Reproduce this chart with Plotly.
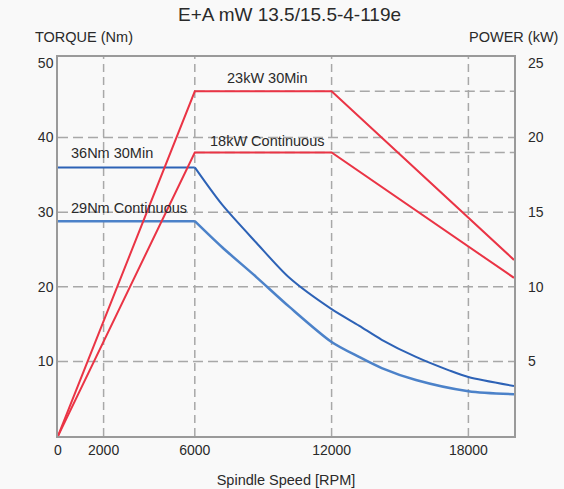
import plotly.graph_objects as go

# ---- data ----
title_text = "E+A mW 13.5/15.5-4-119e"
x_tick_vals = [0, 2000, 6000, 12000, 18000]
x_tick_text = ["0", "2000", "6000", "12000", "18000"]
torque_ticks = [10, 20, 30, 40, 50]
power_ticks = [5, 10, 15, 20, 25]
grid_torque = [10, 20, 30, 40]
grid_rpm = [2000, 6000, 12000, 18000]

rpm_t30 = [0, 6000, 7200, 8700, 10150, 12000, 13200, 14200, 15700, 17150, 18000, 20000]
torque_30min = [36, 36, 31.0, 25.9, 21.2, 17.0, 14.8, 12.9, 10.6, 8.8, 7.9, 6.7]

rpm_tc = [0, 6000, 7200, 8700, 10150, 12000, 13200, 14200, 15700, 18000, 20000]
torque_cont = [28.8, 28.8, 25.3, 21.3, 17.3, 12.6, 10.6, 9.1, 7.5, 6.0, 5.6]

rpm_p = [0, 6000, 12000, 20000]
power_30min = [0, 23.1, 23.1, 11.8]
power_cont = [0, 19.0, 19.0, 10.6]

plateau_levels = [23.1, 19.0]

labels = [
    # text, x (rpm), y, axis, anchor
    ("23kW 30Min", 9200, 24.0, "y2", "center"),
    ("18kW Continuous", 9170, 19.75, "y2", "center"),
    ("36Nm 30Min", 500, 37.9, "y", "left"),
    ("29Nm Continuous", 500, 30.6, "y", "left"),
]

RED = "#ea3445"
BLUE = "#2d62b6"
BLUE2 = "#4c82c9"
GRID = "#a8a8a8"
TXT = "#2a2a2a"
FONT = "Liberation Sans, Arial, sans-serif"

fig = go.Figure()


def add_torque(xs, ys, color, width):
    # flat constant-torque part, then the smooth falling curve
    fig.add_trace(go.Scatter(x=xs[:2], y=ys[:2], mode="lines",
                             line=dict(color=color, width=width), yaxis="y"))
    fig.add_trace(go.Scatter(x=xs[1:], y=ys[1:], mode="lines",
                             line=dict(color=color, width=width, shape="spline", smoothing=0.8),
                             yaxis="y"))


add_torque(rpm_tc, torque_cont, BLUE2, 2.5)
add_torque(rpm_t30, torque_30min, BLUE, 2)
fig.add_trace(go.Scatter(x=rpm_p, y=power_cont, mode="lines",
                         line=dict(color=RED, width=2), yaxis="y2"))
fig.add_trace(go.Scatter(x=rpm_p, y=power_30min, mode="lines",
                         line=dict(color=RED, width=2), yaxis="y2"))

shapes = []
for g in grid_torque:
    shapes.append(dict(type="line", xref="paper", x0=0, x1=1, yref="y", y0=g, y1=g,
                       line=dict(color=GRID, width=1.5, dash="10px,5px"), layer="below"))
for g in grid_rpm:
    shapes.append(dict(type="line", xref="x", x0=g, x1=g, yref="paper", y0=0, y1=1,
                       line=dict(color=GRID, width=1.5, dash="8px,5px"), layer="below"))
for p in plateau_levels:
    shapes.append(dict(type="line", xref="x", x0=6000, x1=20000, yref="y2", y0=p, y1=p,
                       line=dict(color=GRID, width=1.5, dash="10px,5px"), layer="below"))

W, H = 564, 489
L, R, T, B = 58, 50, 57, 53
pw, ph = W - L - R, H - T - B


def px_to_paper(px, py):
    return (px - L) / pw, (H - B - py) / ph


annotations = []
for text, x, y, ax, anchor in labels:
    annotations.append(dict(text=text, x=x, y=y, xref="x", yref=ax, xanchor=anchor,
                            yanchor="middle", showarrow=False,
                            font=dict(family=FONT, size=14.5, color=TXT)))
for text, (px, py), size in [("TORQUE (Nm)", (84, 37), 14.5),
                             (title_text, (289, 14), 19),
                             ("POWER (kW)", (513, 37), 14.5)]:
    ax_, ay_ = px_to_paper(px, py)
    annotations.append(dict(text=text, x=ax_, y=ay_, xref="paper", yref="paper",
                            xanchor="center", yanchor="middle", showarrow=False,
                            font=dict(family=FONT, size=size, color=TXT)))

fig.update_layout(
    width=W, height=H,
    margin=dict(l=L, r=R, t=T, b=B, autoexpand=False),
    paper_bgcolor="#f9f9f9", plot_bgcolor="#f9f9f9",
    showlegend=False,
    font=dict(family=FONT, size=14, color=TXT),
    shapes=shapes, annotations=annotations,
    xaxis=dict(range=[0, 20000], tickvals=x_tick_vals, ticktext=x_tick_text,
               showgrid=False, zeroline=False, showline=True, mirror=True,
               linecolor="#9a9a9a", linewidth=1.5, ticks="", automargin=False,
               title=dict(text="Spindle Speed [RPM]", standoff=18,
                          font=dict(family=FONT, size=14.5, color=TXT)),
               tickfont=dict(family=FONT, size=14, color=TXT)),
    yaxis=dict(range=[0, 50.8], tickvals=torque_ticks, showgrid=False, zeroline=False,
               showline=True, mirror=True, linecolor="#9a9a9a", linewidth=1.5, ticks="",
               automargin=False, tickfont=dict(family=FONT, size=14, color=TXT)),
    yaxis2=dict(range=[0, 25.4], tickvals=power_ticks, overlaying="y", side="right",
                showgrid=False, zeroline=False, showline=False, ticks="",
                ticklabelstandoff=13, automargin=False,
                tickfont=dict(family=FONT, size=14, color=TXT)),
)

fig.write_html("out.html",
               config=dict(displayModeBar=False),
               post_script="document.body.style.margin='0';"
                           "document.body.style.background='#f9f9f9';")
